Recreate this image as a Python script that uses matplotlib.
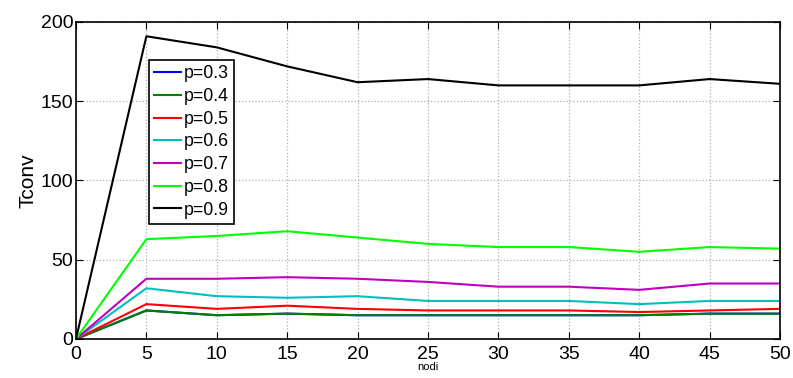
import matplotlib.pyplot as plt

nodi = [0, 5, 10, 15, 20, 25, 30, 35, 40, 45, 50]

p03 = [0, 18, 15, 16, 15, 15, 15, 15, 15, 16, 16]
p04 = [0, 18, 15, 16, 15, 15, 15, 15, 15, 16, 16]
p05 = [0, 22, 19, 21, 19, 18, 18, 18, 17, 18, 19]
p06 = [0, 32, 27, 26, 27, 24, 24, 24, 22, 24, 24]
p07 = [0, 38, 38, 39, 38, 36, 33, 33, 31, 35, 35]
p08 = [0, 63, 65, 68, 64, 60, 58, 58, 55, 58, 57]
p09 = [0, 191, 184, 172, 162, 164, 160, 160, 160, 164, 161]

labels = ['p=0.3', 'p=0.4', 'p=0.5', 'p=0.6', 'p=0.7', 'p=0.8', 'p=0.9']
colors = ['#0000ff', '#007f00', '#ff0000', '#00bfbf', '#bf00bf', '#00ff00', '#000000']
series = [p03, p04, p05, p06, p07, p08, p09]

plt.rcParams['font.family'] = ['Liberation Sans', 'DejaVu Sans']

fig = plt.figure(figsize=(7.93, 3.78), dpi=100)
ax = fig.add_axes([0.0958, 0.1032, 0.8878, 0.8386])

for vals, lab, c in zip(series, labels, colors):
    ax.plot(nodi, vals, color=c, linewidth=1.5, label=lab)

ax.set_xlim(0, 50)
ax.set_ylim(0, 200)
ax.set_xticks(range(0, 51, 5))
ax.set_yticks(range(0, 201, 50))
ax.grid(True, color='#b0b0b0', linestyle=':', linewidth=0.9)
ax.tick_params(direction='in', labelsize=14, length=5, top=True, right=True)
ax.tick_params(axis='x', pad=5)
ax.tick_params(axis='y', pad=2)
for s in ax.spines.values():
    s.set_linewidth(1.2)

ax.set_xlabel('nodi', fontsize=8, labelpad=-1)
ax.set_ylabel('Tconv', fontsize=15, labelpad=2)

leg = ax.legend(loc='upper left', bbox_to_anchor=(0.1037, 0.88), fontsize=12.8,
                fancybox=False, framealpha=1, edgecolor='black', borderaxespad=0,
                handlelength=1.5, handletextpad=0.15, labelspacing=0.32,
                borderpad=0.3)
leg.get_frame().set_linewidth(1.2)

fig.savefig('out.png', dpi=100)
